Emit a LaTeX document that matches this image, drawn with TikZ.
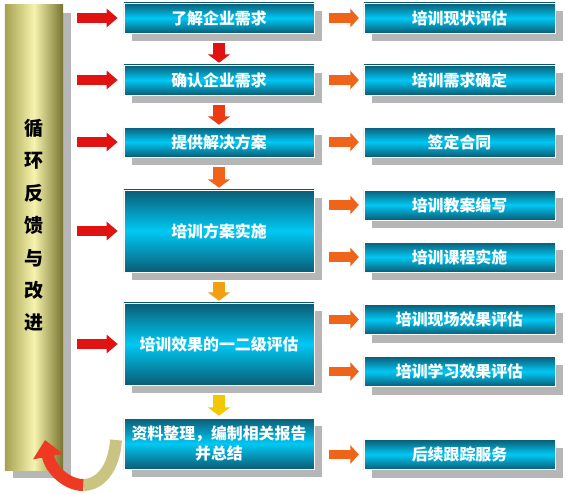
\documentclass[tikz,border=0pt]{standalone}
\usepackage{fontspec}
\newfontfamily\cjk{Noto Sans CJK SC}
\usetikzlibrary{arrows.meta, shadows}
\definecolor{boxdark}{HTML}{0B5C74}
\definecolor{boxcyan}{HTML}{00C8F4}
\definecolor{pillarleft}{HTML}{A4A250}
\definecolor{pillarlight}{HTML}{F6F3AE}
\definecolor{pillardark}{HTML}{76742F}
\definecolor{shadowgray}{HTML}{B6B6B6}
\definecolor{arrowred}{HTML}{E01212}
\definecolor{arrowredorange}{HTML}{EC3A12}
\definecolor{arroworange}{HTML}{F0641A}
\definecolor{arrowamber}{HTML}{F0A012}
\definecolor{arrowyellow}{HTML}{F2C800}
\definecolor{loopkhaki}{HTML}{C9C482}
\definecolor{loopred}{HTML}{EE3A22}

\begin{document}
\begin{tikzpicture}[x=0.025cm, y=-0.025cm,
    boxshadow/.style={drop shadow={shadow xshift=0.2cm, shadow yshift=-0.2cm, fill=shadowgray, opacity=1}},
    mainbox/.style={boxshadow, top color=boxdark, bottom color=boxdark, middle color=boxcyan,
      draw=white, line width=0.4pt, minimum width=4.75cm, minimum height=0.75cm, text=white,
      align=center, font=\cjk\bfseries\fontsize{11.3}{14}\selectfont},
    sidebox/.style={mainbox, minimum width=4.775cm},
    pillar/.style={boxshadow, left color=pillarleft, right color=pillardark, middle color=pillarlight,
      minimum width=1.45cm, minimum height=11.625cm, inner sep=0pt},
    downarrow/.style={line width=8.5pt, -{Triangle[width=15.6pt, length=6pt]},
      shorten <=7pt, shorten >=1.4pt},
    outarrow/.style={arroworange, line width=7pt, -{Triangle[width=13pt, length=6pt]},
      shorten <=10.6pt, shorten >=3.5pt},
    feedarrow/.style={arrowred, line width=7pt,
      {Bar[width=7pt, line width=2pt, sep=1.5pt]}-{Triangle[width=12.8pt, length=7.8pt]},
      shorten <=8.5pt, shorten >=4.3pt}]
  \useasboundingbox (0,0) rectangle (569,494);

  % Feedback pillar
  \node[pillar] (pillar) at (34,237.5) {};
  \node[font=\cjk\bfseries\fontsize{13.5}{23}\selectfont, align=center] (looptext) at (34,225.5)
    {循\\环\\反\\馈\\与\\改\\进};

  % Main steps
  \node[mainbox] (b1) at (219,18) {了解企业需求};
  \node[mainbox] (b2) at (219,80) {确认企业需求};
  \node[mainbox] (b3) at (219,142) {提供解决方案};
  \node[mainbox, minimum height=2.05cm] (b4) at (219,231) {培训方案实施};
  \node[mainbox, minimum height=2.05cm] (b5) at (219,344) {培训效果的一二级评估};
  \node[mainbox, minimum height=1.275cm] (b6) at (219,443.5) {资料整理，编制相关报告\\并总结};

  % Results
  \node[sidebox] (r1) at (459.5,18) {培训现状评估};
  \node[sidebox] (r2) at (459.5,80) {培训需求确定};
  \node[sidebox] (r3) at (459.5,142) {签定合同};
  \node[sidebox] (r4) at (459.5,205) {培训教案编写};
  \node[sidebox] (r5) at (459.5,257) {培训课程实施};
  \node[sidebox] (r6) at (459.5,319.5) {培训现场效果评估};
  \node[sidebox] (r7) at (459.5,371.5) {培训学习效果评估};
  \node[sidebox] (r8) at (459.5,454.5) {后续跟踪服务};

  \draw[downarrow, arrowred] (b1) -- (b2);
  \draw[downarrow, arrowredorange] (b2) -- (b3);
  \draw[downarrow, arroworange] (b3) -- (b4);
  \draw[downarrow, arrowamber] (b4) -- (b5);
  \draw[downarrow, arrowyellow] (b5) -- (b6);

  \draw[outarrow] (b1) -- (r1);
  \draw[outarrow] (b2) -- (r2);
  \draw[outarrow] (b3) -- (r3);
  \draw[outarrow] (b4.east |- r4.west) -- (r4);
  \draw[outarrow] (b4.east |- r5.west) -- (r5);
  \draw[outarrow] (b5.east |- r6.west) -- (r6);
  \draw[outarrow] (b5.east |- r7.west) -- (r7);
  \draw[outarrow] (b6.east |- r8.west) -- (r8);

  \foreach \b in {b1,b2,b3,b4,b5}
    \draw[feedarrow] (pillar.east |- \b.west) -- (\b.west);

  % Loop back
  \coordinate (loopstart) at (116,440);
  \coordinate (loopmid) at (83.1,485);
  \coordinate (looptip) at (45,440);
  \draw[loopkhaki, line width=8.5pt] (loopstart) .. controls (114,470) and (99,485) .. (loopmid);
  \draw[loopred, line width=8.5pt, -{Triangle[width=21pt, length=12pt]}]
    (loopmid) .. controls (67.2,485) and (50.5,470) .. (looptip);
\end{tikzpicture}
\end{document}
